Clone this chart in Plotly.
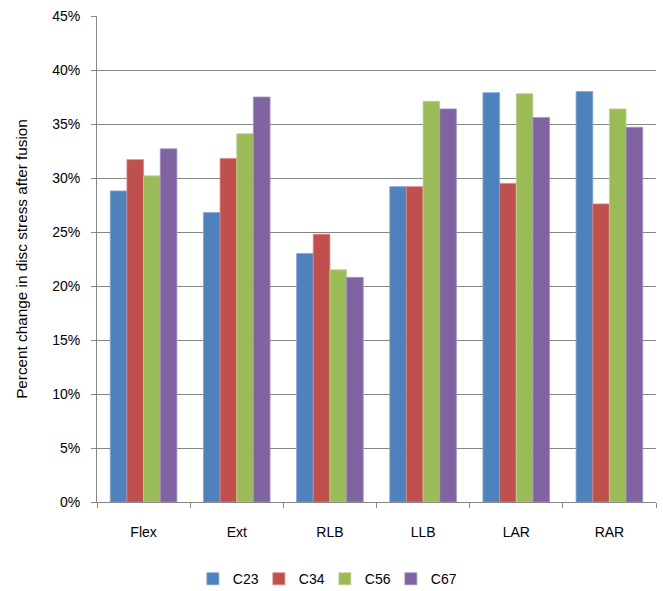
import plotly.graph_objects as go

# Loading cases and spinal levels
motions = ["Flex", "Ext", "RLB", "LLB", "LAR", "RAR"]
levels = ["C23", "C34", "C56", "C67"]

# Percent change in disc stress after fusion (fractions)
c23 = [0.288, 0.268, 0.230, 0.292, 0.379, 0.380]
c34 = [0.317, 0.318, 0.248, 0.292, 0.295, 0.276]
c56 = [0.302, 0.341, 0.215, 0.371, 0.378, 0.364]
c67 = [0.327, 0.375, 0.208, 0.364, 0.356, 0.347]

series = [c23, c34, c56, c67]
colors = ["#4F81BD", "#C0504D", "#9BBB59", "#8064A2"]
edges = ["#7FA3D2", "#D98583", "#BCD394", "#A690C0"]

font_family = "Liberation Sans, Arial, sans-serif"

fig = go.Figure()
for name, vals, col, edge in zip(levels, series, colors, edges):
    fig.add_trace(go.Bar(
        x=motions, y=vals, name=name,
        marker=dict(color=col, line=dict(color=edge, width=0.8)),
    ))

fig.update_layout(
    width=663, height=591,
    margin=dict(l=97, r=7, t=16, b=89),
    paper_bgcolor="white", plot_bgcolor="white",
    barmode="group", bargap=0.285, bargroupgap=0,
    font=dict(family=font_family, size=14, color="#000000"),
    showlegend=True,
    legend=dict(
        orientation="h", xref="container", yref="container",
        x=0.49, xanchor="center", y=0.02, yanchor="middle",
        font=dict(size=14), itemwidth=30, traceorder="normal",
        entrywidth=21, entrywidthmode="pixels",
    ),
    xaxis=dict(
        type="category", showgrid=False, showline=True,
        linecolor="#868686", linewidth=1,
        ticks="outside", ticklen=5, tickcolor="#868686",
        tickson="boundaries", ticklabelstandoff=17,
        tickfont=dict(size=14),
    ),
    yaxis=dict(
        range=[0, 0.45], dtick=0.05, tickformat=".0%",
        showgrid=True, gridcolor="#868686", gridwidth=1,
        showline=True, linecolor="#868686", linewidth=1,
        ticks="outside", ticklen=5, tickcolor="#868686",
        ticklabelstandoff=8,
        tickfont=dict(size=14),
        title=dict(text="Percent change in disc stress after fusion",
                   font=dict(size=15.3), standoff=20),
        zeroline=False,
    ),
)

fig.write_html("out.html")
